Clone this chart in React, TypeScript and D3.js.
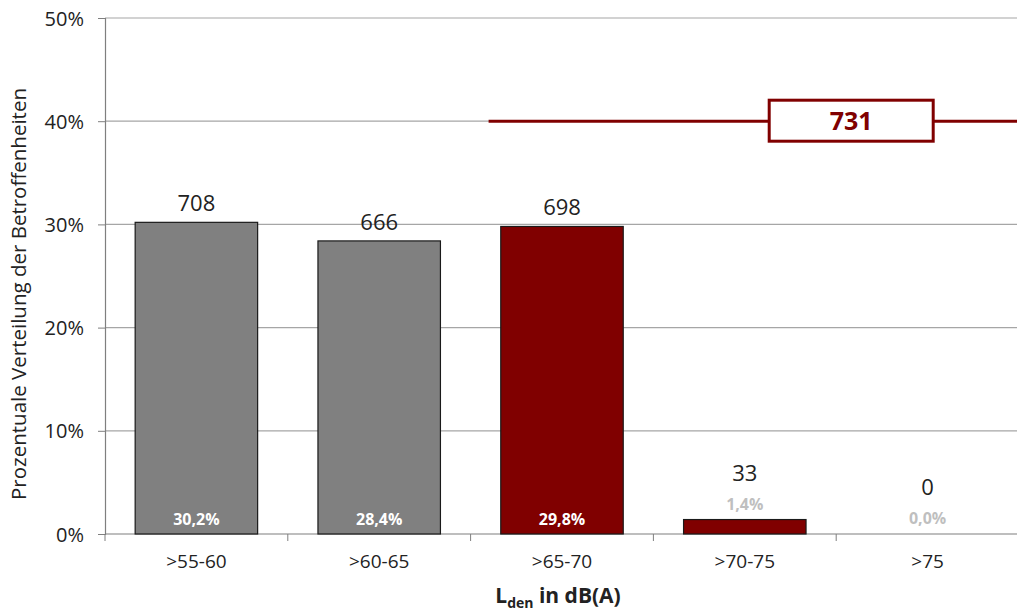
import React, { useRef, useEffect } from 'react'
import * as d3 from 'd3'

const categories = ['>55-60', '>60-65', '>65-70', '>70-75', '>75']
const counts = [708, 666, 698, 33, 0]
const percents = [30.2, 28.4, 29.8, 1.4, 0.0]
const highlight = [false, false, true, true, true]
const yTicks = [0, 10, 20, 30, 40, 50]
const refValue = 40
const refLabel = '731'

const width = 1017
const height = 614
const GRAY = '#808080'
const RED = '#800000'
const FONT = '"Open Sans", "Noto Sans", sans-serif'

export default function App() {
  const svgRef = useRef<SVGSVGElement | null>(null)

  useEffect(() => {
    if (!svgRef.current) return
    const svg = d3.select(svgRef.current)
    svg.selectAll('*').remove()

    const left = 105
    const x = d3.scaleBand<string>()
      .domain(categories)
      .range([left, 1019])
      .paddingInner(0.33)
      .paddingOuter(0.165)

    const y = d3.scaleLinear().domain([0, 50]).range([534, 18])

    // gridlines
    svg.append('g')
      .selectAll('line')
      .data(yTicks.filter(t => t > 0))
      .enter().append('line')
      .attr('x1', left)
      .attr('x2', width)
      .attr('y1', d => y(d))
      .attr('y2', d => y(d))
      .attr('stroke', '#a6a6a6')
      .attr('stroke-width', 1.2)

    // y axis
    const yAxis = svg.append('g')
      .attr('transform', `translate(${left},0)`)
      .call(d3.axisLeft(y).tickValues(yTicks).tickSize(7).tickFormat(d => `${d}%`))
    yAxis.select('.domain').attr('stroke', '#7f7f7f').attr('stroke-width', 1.2)
    yAxis.selectAll('.tick line').attr('stroke', '#7f7f7f')
    yAxis.selectAll('text')
      .attr('x', -21)
      .attr('dy', '0.35em')
      .style('font-family', FONT)
      .style('font-size', '20px')
      .attr('fill', '#222')

    // x axis line + ticks at band boundaries
    const step = x.step()
    const x0 = x.range()[0]
    svg.append('line')
      .attr('x1', left).attr('x2', width)
      .attr('y1', y(0)).attr('y2', y(0))
      .attr('stroke', '#7f7f7f').attr('stroke-width', 1.2)
    svg.append('g')
      .selectAll('line')
      .data(d3.range(categories.length + 1))
      .enter().append('line')
      .attr('x1', i => x0 + i * step)
      .attr('x2', i => x0 + i * step)
      .attr('y1', y(0))
      .attr('y2', y(0) + 7)
      .attr('stroke', '#7f7f7f')

    svg.append('g')
      .selectAll('text')
      .data(categories)
      .enter().append('text')
      .attr('x', d => x(d)! + x.bandwidth() / 2)
      .attr('y', 568)
      .attr('text-anchor', 'middle')
      .style('font-family', FONT)
      .style('font-size', '19px')
      .attr('fill', '#222')
      .text(d => d)

    // bars
    const data = categories.map((c, i) => ({ c, n: counts[i], p: percents[i], hl: highlight[i] }))
    svg.append('g')
      .selectAll('rect')
      .data(data.filter(d => d.p > 0))
      .enter().append('rect')
      .attr('x', d => x(d.c)!)
      .attr('y', d => y(d.p))
      .attr('width', x.bandwidth())
      .attr('height', d => y(0) - y(d.p))
      .attr('fill', d => (d.hl ? RED : GRAY))
      .attr('stroke', '#1a1a1a')
      .attr('stroke-width', 1.2)

    const inside = (p: number) => y(0) - y(p) > 30

    // percent labels
    svg.append('g')
      .selectAll('text')
      .data(data)
      .enter().append('text')
      .attr('x', d => x(d.c)! + x.bandwidth() / 2)
      .attr('y', d => (inside(d.p) ? 525 : y(d.p) - 10))
      .attr('text-anchor', 'middle')
      .style('font-family', FONT)
      .style('font-size', '16px')
      .style('font-weight', 700)
      .attr('fill', d => (inside(d.p) ? '#fff' : '#bfbfbf'))
      .text(d => d.p.toFixed(1).replace('.', ',') + '%')

    // count labels
    svg.append('g')
      .selectAll('text')
      .data(data)
      .enter().append('text')
      .attr('x', d => x(d.c)! + x.bandwidth() / 2)
      .attr('y', d => (inside(d.p) ? y(d.p) - 11 : y(d.p) - 39))
      .attr('text-anchor', 'middle')
      .style('font-family', FONT)
      .style('font-size', '22px')
      .attr('fill', '#222')
      .text(d => String(d.n))

    // reference line
    const refStart = x(categories[2])! - (step - x.bandwidth()) / 2 + 18
    const boxCx = x0 + 4 * step + 15
    const boxW = 164
    const boxH = 41
    svg.append('line')
      .attr('x1', refStart).attr('x2', width)
      .attr('y1', y(refValue)).attr('y2', y(refValue))
      .attr('stroke', RED).attr('stroke-width', 3)
    svg.append('rect')
      .attr('x', boxCx - boxW / 2)
      .attr('y', y(refValue) - 21)
      .attr('width', boxW)
      .attr('height', boxH)
      .attr('fill', '#fff')
      .attr('stroke', RED)
      .attr('stroke-width', 3)
    svg.append('text')
      .attr('x', boxCx)
      .attr('y', y(refValue) + 9)
      .attr('text-anchor', 'middle')
      .style('font-family', FONT)
      .style('font-size', '25px')
      .style('font-weight', 700)
      .attr('fill', RED)
      .text(refLabel)

    // y title
    svg.append('text')
      .attr('transform', `translate(26,${(y(0) + y(50)) / 2 + 18}) rotate(-90)`)
      .attr('text-anchor', 'middle')
      .style('font-family', FONT)
      .style('font-size', '20.5px')
      .attr('fill', '#222')
      .text('Prozentuale Verteilung der Betroffenheiten')

    // x title
    const xt = svg.append('text')
      .attr('x', 558)
      .attr('y', 603)
      .attr('text-anchor', 'middle')
      .style('font-family', FONT)
      .style('font-size', '21px')
      .style('font-weight', 700)
      .attr('fill', '#222')
    xt.append('tspan').text('L')
    xt.append('tspan').attr('dy', 5).style('font-size', '14px').text('den')
    xt.append('tspan').attr('dy', -5).text(' in dB(A)')
  }, [])

  return (
    <svg
      ref={svgRef}
      width={width}
      height={height}
      style={{ position: 'absolute', left: 0, top: 0, background: '#fff' }}
    />
  )
}
